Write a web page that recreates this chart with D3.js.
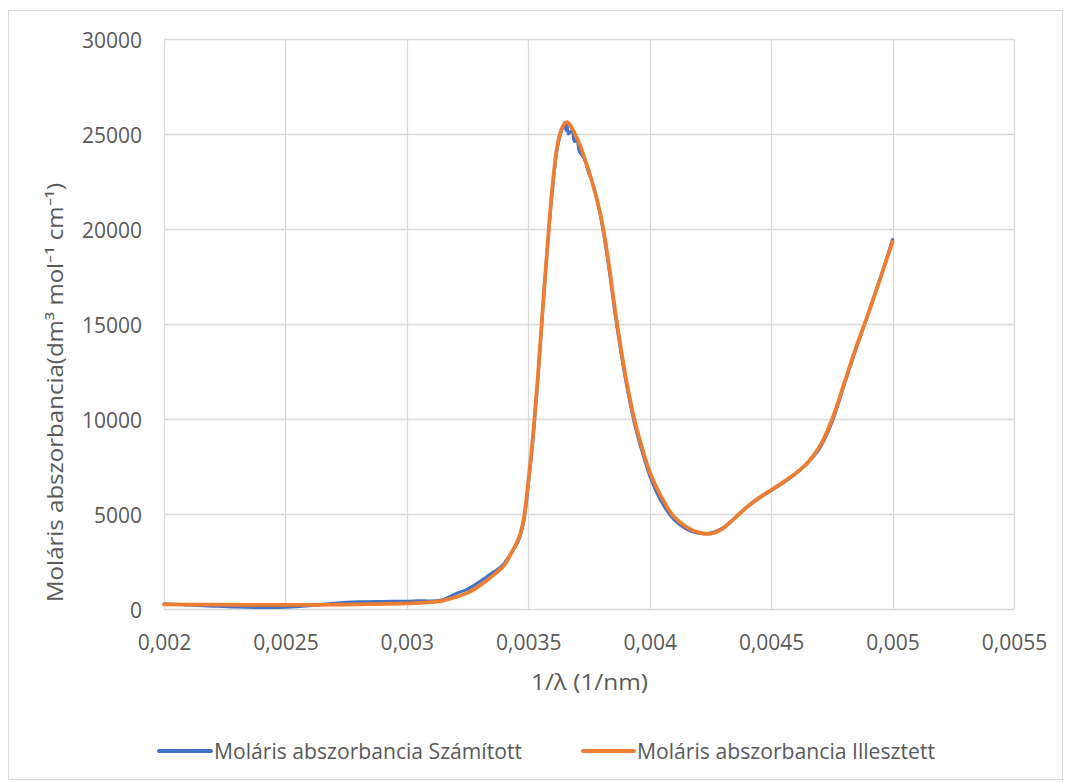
<!DOCTYPE html>
<html>
<head>
<meta charset="utf-8">
<script src="https://cdn.jsdelivr.net/npm/d3@7"></script>
<style>
  html, body { margin: 0; padding: 0; background: #fff; }
  svg { display: block; }
  text { font-family: "Open Sans", "Liberation Sans", sans-serif; fill: #595959; }
</style>
</head>
<body>
<svg id="chart" width="1065" height="782"></svg>
<script>
// ---- data ----
const xTicks = [0.002, 0.0025, 0.003, 0.0035, 0.004, 0.0045, 0.005, 0.0055];
const xTickLabels = ["0,002", "0,0025", "0,003", "0,0035", "0,004", "0,0045", "0,005", "0,0055"];
const yTicks = [0, 5000, 10000, 15000, 20000, 25000, 30000];
const yTickLabels = ["0", "5000", "10000", "15000", "20000", "25000", "30000"];

const seriesNames = ["Moláris abszorbancia Számított", "Moláris abszorbancia Illesztett"];

// calculated (Számított)
const xCalc = [0.0020, 0.0021, 0.0022, 0.0023, 0.0024, 0.0025, 0.0026, 0.0027, 0.0028, 0.0029,
  0.0030, 0.00305, 0.0031, 0.00315, 0.0032, 0.00325, 0.0033, 0.00332, 0.00335, 0.00337,
  0.0034, 0.00343, 0.00346, 0.00348, 0.0035, 0.00352, 0.00354, 0.00356, 0.00358, 0.0036,
  0.00362, 0.00364, 0.00365, 0.003655, 0.00366, 0.003665, 0.00368, 0.00369, 0.0037, 0.00371,
  0.00373, 0.00375, 0.00376, 0.00378, 0.0038, 0.00383, 0.00386, 0.0039, 0.00394, 0.00398,
  0.0040, 0.00405, 0.0041, 0.00415, 0.0042, 0.00425, 0.0043, 0.00435, 0.0044, 0.00445,
  0.0045, 0.00455, 0.0046, 0.00465, 0.0047, 0.00475, 0.0048, 0.00485, 0.0049, 0.00495, 0.0050];
const yCalc = [260, 210, 150, 100, 80, 90, 170, 300, 380, 400,
  410, 440, 420, 500, 800, 1050, 1450, 1620, 1900, 2050,
  2400, 2950, 3600, 4500, 6500, 9000, 12200, 15800, 19200, 22100,
  24300, 25300, 25600, 25200, 25500, 25000, 25200, 24600, 24700, 24100,
  23700, 22900, 22600, 21700, 20500, 18100, 15300, 12100, 9600, 7800,
  7000, 5600, 4700, 4220, 3990, 4000, 4260, 4800, 5360, 5820,
  6230, 6640, 7120, 7680, 8450, 9800, 11750, 13700, 15550, 17450, 19450];

// fitted (Illesztett)
const xFit = [0.0020, 0.0022, 0.0024, 0.0026, 0.0028, 0.0030, 0.0031, 0.00315, 0.0032, 0.00325,
  0.0033, 0.00335, 0.0034, 0.00343, 0.00346, 0.00348, 0.0035, 0.00352, 0.00354, 0.00356,
  0.00358, 0.0036, 0.00362, 0.00364, 0.00366, 0.00368, 0.0037, 0.00373, 0.00376, 0.0038,
  0.00383, 0.00386, 0.0039, 0.00394, 0.00398, 0.0040, 0.00405, 0.0041, 0.00415, 0.0042,
  0.00425, 0.0043, 0.00435, 0.0044, 0.00445, 0.0045, 0.00455, 0.0046, 0.00465, 0.0047,
  0.00475, 0.0048, 0.00485, 0.0049, 0.00495, 0.0050];
const yFit = [240, 225, 215, 220, 245, 290, 360, 440, 620, 850,
  1230, 1720, 2290, 2940, 3700, 4650, 6700, 9200, 12300, 15900,
  19300, 22300, 24400, 25350, 25630, 25300, 24800, 23800, 22600, 20600,
  18300, 15500, 12300, 9800, 8000, 7200, 5850, 4850, 4330, 4030,
  3960, 4230, 4780, 5360, 5850, 6260, 6680, 7130, 7700, 8550,
  9950, 11850, 13780, 15550, 17420, 19330];

// ---- layout ----
const svg = d3.select("#chart");
const m = { left: 164, right: 1014, top: 39, bottom: 609 };

svg.append("rect").attr("x", 8.5).attr("y", 10.5).attr("width", 1054).attr("height", 769)
  .attr("fill", "#fff").attr("stroke", "#d9d9d9").attr("stroke-width", 1);

const x = d3.scaleLinear().domain([0.002, 0.0055]).range([m.left, m.right]);
const y = d3.scaleLinear().domain([0, 30000]).range([m.bottom, m.top]);

// grid
const grid = svg.append("g");
grid.selectAll("line.v").data(xTicks).join("line")
  .attr("x1", d => Math.round(x(d)) + 0.5).attr("x2", d => Math.round(x(d)) + 0.5)
  .attr("y1", m.top).attr("y2", m.bottom)
  .attr("stroke", "#d9d9d9").attr("stroke-width", 1.3);
grid.selectAll("line.h").data(yTicks).join("line")
  .attr("y1", d => Math.round(y(d)) + 0.5).attr("y2", d => Math.round(y(d)) + 0.5)
  .attr("x1", m.left).attr("x2", m.right)
  .attr("stroke", "#d9d9d9").attr("stroke-width", 1.3);

// axes
const xAxis = d3.axisBottom(x).tickValues(xTicks).tickFormat((d, i) => xTickLabels[i]).tickSize(0).tickPadding(0);
const gx = svg.append("g").attr("transform", `translate(0,${m.bottom})`).call(xAxis);
gx.select(".domain").remove();
gx.selectAll("text").attr("dy", null).attr("y", 41).style("font-size", "21px").style("fill", "#595959")
  .style("font-family", '"Open Sans", sans-serif');

const yAxis = d3.axisLeft(y).tickValues(yTicks).tickFormat((d, i) => yTickLabels[i]).tickSize(0).tickPadding(0);
const gy = svg.append("g").attr("transform", `translate(142,0)`).call(yAxis);
gy.select(".domain").remove();
gy.selectAll("text").attr("dy", null).attr("y", 8).attr("x", 0).style("font-size", "21px").style("fill", "#595959")
  .style("font-family", '"Open Sans", sans-serif');

// axis titles
svg.append("text").attr("x", 531).attr("y", 690).style("font-size", "21px")
  .attr("textLength", 117).attr("lengthAdjust", "spacingAndGlyphs")
  .text("1/λ (1/nm)");

svg.append("text").attr("transform", "translate(63,602) rotate(-90)").style("font-size", "21px")
  .attr("textLength", 419).attr("lengthAdjust", "spacingAndGlyphs")
  .text("Moláris abszorbancia(dm³ mol⁻¹ cm⁻¹)");

// lines
const calcData = xCalc.map((v, i) => [v, yCalc[i]]);
const fitData = xFit.map((v, i) => [v, yFit[i]]);

const lineCalc = d3.line().x(d => x(d[0])).y(d => y(d[1])).curve(d3.curveCatmullRom.alpha(0.5));
const lineFit = d3.line().x(d => x(d[0])).y(d => y(d[1])).curve(d3.curveCatmullRom.alpha(0.5));

svg.append("path").datum(calcData).attr("d", lineCalc)
  .attr("fill", "none").attr("stroke", "#4472C4").attr("stroke-width", 3)
  .attr("stroke-linejoin", "round").attr("stroke-linecap", "round");
svg.append("path").datum(fitData).attr("d", lineFit)
  .attr("fill", "none").attr("stroke", "#ED7D31").attr("stroke-width", 3.75)
  .attr("stroke-linejoin", "round").attr("stroke-linecap", "round");

// legend
const legendItems = [
  { name: seriesNames[0], color: "#4472C4", x1: 159, x2: 211, tx: 214, tl: 308 },
  { name: seriesNames[1], color: "#ED7D31", x1: 583, x2: 634, tx: 637, tl: 298 }
];
const lg = svg.append("g");
legendItems.forEach(it => {
  lg.append("line").attr("x1", it.x1).attr("x2", it.x2).attr("y1", 751).attr("y2", 751)
    .attr("stroke", it.color).attr("stroke-width", 4).attr("stroke-linecap", "round");
  lg.append("text").attr("x", it.tx).attr("y", 758.5).style("font-size", "21px")
    .attr("textLength", it.tl).attr("lengthAdjust", "spacingAndGlyphs")
    .text(it.name);
});
</script>
</body>
</html>
